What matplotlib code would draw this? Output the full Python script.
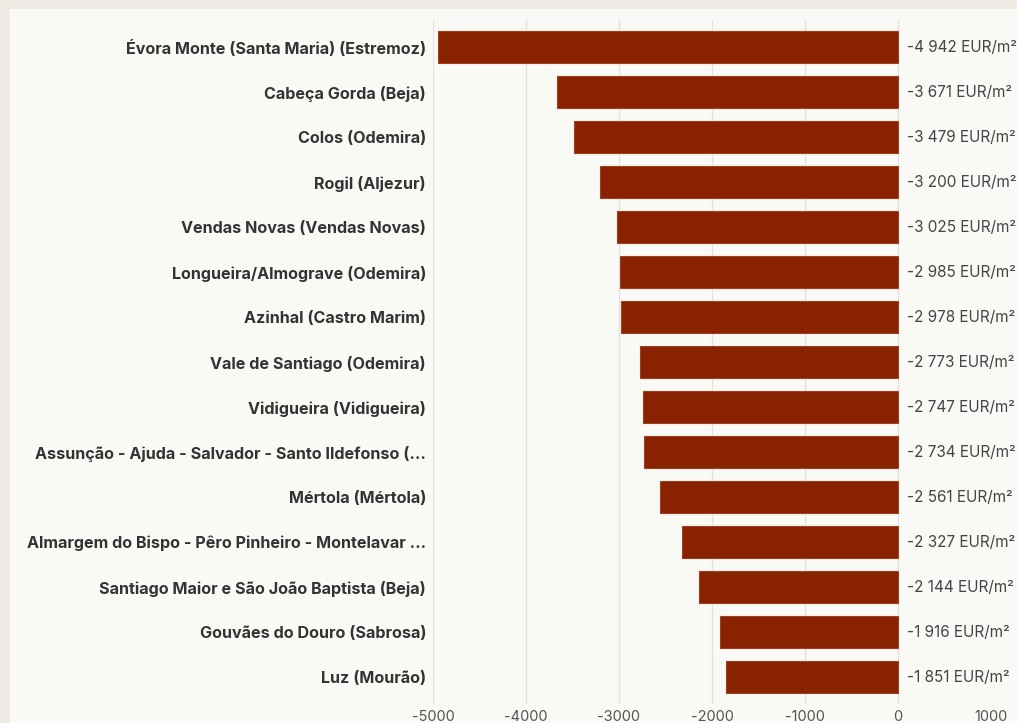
import matplotlib.pyplot as plt
from matplotlib.patches import Rectangle

# Price change per parish, EUR/m²
parishes = [
    'Évora Monte (Santa Maria) (Estremoz)',
    'Cabeça Gorda (Beja)',
    'Colos (Odemira)',
    'Rogil (Aljezur)',
    'Vendas Novas (Vendas Novas)',
    'Longueira/Almograve (Odemira)',
    'Azinhal (Castro Marim)',
    'Vale de Santiago (Odemira)',
    'Vidigueira (Vidigueira)',
    'Assunção - Ajuda - Salvador - Santo Ildefonso (...',
    'Mértola (Mértola)',
    'Almargem do Bispo - Pêro Pinheiro - Montelavar ...',
    'Santiago Maior e São João Baptista (Beja)',
    'Gouvães do Douro (Sabrosa)',
    'Luz (Mourão)',
]
change = [-4942, -3671, -3479, -3200, -3025, -2985, -2978, -2773,
          -2747, -2734, -2561, -2327, -2144, -1916, -1851]
xticks = [-5000, -4000, -3000, -2000, -1000, 0, 1000]

W, H = 1017, 723
fig = plt.figure(figsize=(W / 100, H / 100), dpi=100)
fig.patch.set_facecolor('#efebe4')
fig.patches.append(Rectangle((10 / W, 0), 1, 1 - 9 / H, transform=fig.transFigure,
                             facecolor='#f9f9f5', edgecolor='none', zorder=-10))

ax = fig.add_axes([433 / W, 1 - 704 / H, (991 - 433) / W, (704 - 20) / H])
ax.set_facecolor('none')

y = range(len(parishes))
ax.barh(y, change, height=0.69, color='#882200', edgecolor='#a0401f',
        linewidth=0.8, zorder=3)

for yi, v in zip(y, change):
    txt = f'{v:,}'.replace(',', ' ') + ' EUR/m²'
    ax.text(95, yi, txt, va='center', ha='left', fontsize=11,
            family='Inter', color='#444444', zorder=4)

ax.set_ylim(len(parishes) - 0.4, -0.6)
ax.set_xlim(-5000, 1000)
ax.set_xticks(xticks)
ax.set_xticklabels([str(t) for t in xticks], family='Inter', fontsize=10.5,
                   color='#555555')
ax.set_yticks(list(y))
ax.set_yticklabels(parishes, family='Inter', fontweight='bold', fontsize=11.6,
                   color='#333333')
ax.tick_params(axis='both', length=0)
ax.tick_params(axis='y', pad=5)
ax.tick_params(axis='x', pad=4)
ax.grid(axis='x', color='#e2e2de', linewidth=1, zorder=0)
for s in ax.spines.values():
    s.set_visible(False)

fig.savefig('out.png', dpi=100, facecolor=fig.get_facecolor())
